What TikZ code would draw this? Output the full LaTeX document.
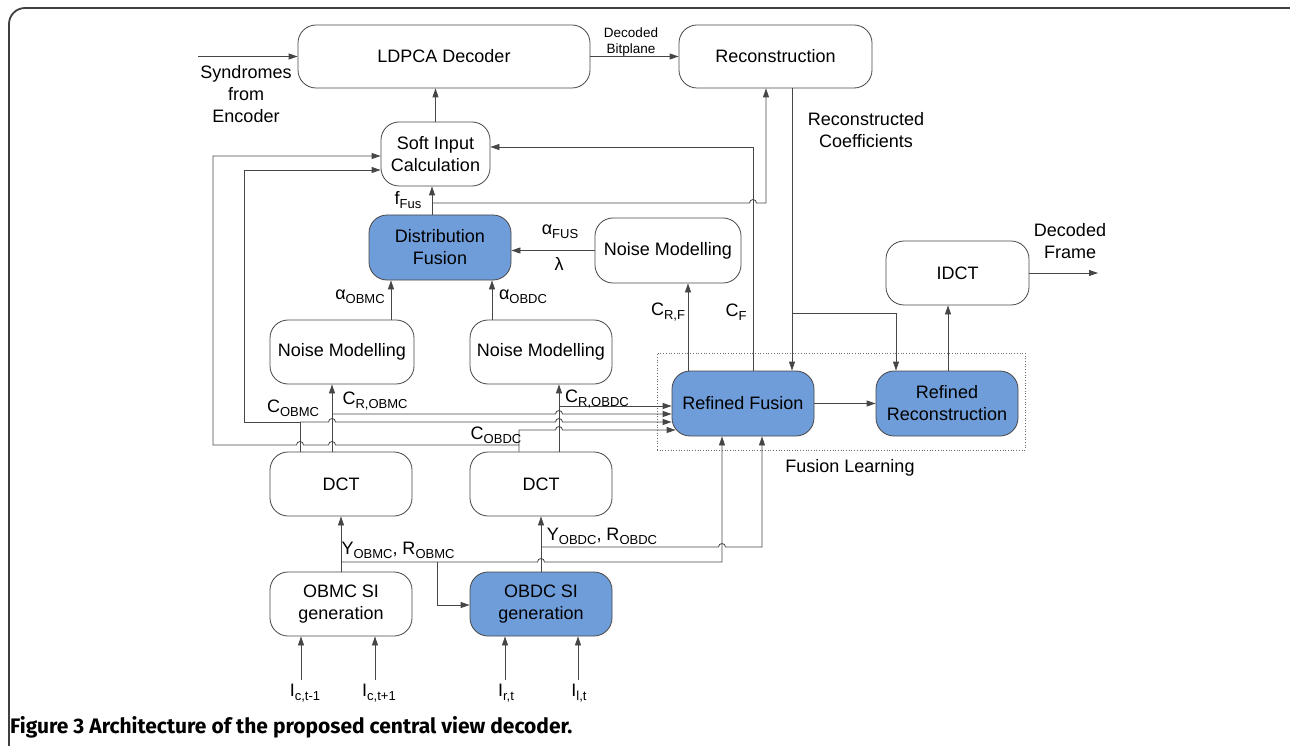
\documentclass[tikz,border=0pt]{standalone}
\usepackage{fontspec}
\setmainfont{Liberation Sans}
\newfontfamily\capfont{Fira Sans}
\usetikzlibrary{arrows.meta,calc}
\definecolor{boxblue}{RGB}{111,157,217}
\definecolor{ln}{RGB}{70,70,70}
\newcommand\sbs[1]{\raisebox{-4pt}{\fontsize{13}{13}\selectfont #1}}
\begin{document}
\begin{tikzpicture}[x=1pt,y=-1pt,font=\fontsize{18}{22}\selectfont,
  box/.style={draw=ln, line width=0.8pt, rounded corners=18pt, align=center, inner sep=0pt, minimum width=142pt, minimum height=64pt},
  bluebox/.style={box, fill=boxblue},
  arr/.style={draw=ln, line width=0.8pt, -{Triangle[length=9pt,width=6pt]}},
  con/.style={draw=ln, line width=0.8pt},
  lbl/.style={inner sep=0pt, align=center},
  small/.style={lbl, font=\fontsize{13.5}{16}\selectfont}]
\useasboundingbox (0,0) rectangle (1290,746);
% outer frame
\draw[line width=1.8pt, draw=black!75, rounded corners=16pt] (1290,8) -- (9,8) -- (9,746);
% fusion learning region
\node[draw=ln!80, dotted, line width=0.7pt, minimum width=368pt, minimum height=97pt, inner sep=0pt] (fl) at (841,401.5) {};
\node[lbl] (fltxt) at (850,468) {Fusion Learning};
% boxes
\node[box, minimum width=292pt, minimum height=63pt] (ldpc) at (444,56.5) {LDPCA Decoder};
\node[box, minimum width=193pt, minimum height=63pt] (recon) at (775.5,56.5) {Reconstruction};
\node[box, minimum width=109pt] (soft) at (435.5,154) {Soft Input\\Calculation};
\node[bluebox, minimum height=65pt] (distf) at (440,247.5) {Distribution\\Fusion};
\node[box, minimum width=146pt, minimum height=65pt] (nmR) at (668,250.5) {Noise Modelling};
\node[box, minimum width=144pt] (nmL) at (342,352) {Noise Modelling};
\node[box] (nmM) at (541,352) {Noise Modelling};
\node[bluebox, minimum height=65pt] (rf) at (743,403.5) {Refined Fusion};
\node[bluebox, minimum height=65pt] (rr) at (947,403.5) {Refined\\Reconstruction};
\node[box, minimum width=143pt] (idct) at (957.5,273) {IDCT};
\node[box] (dctL) at (341,484) {DCT};
\node[box] (dctM) at (541,484) {DCT};
\node[box] (obmc) at (341,604) {OBMC SI\\generation};
\node[bluebox] (obdc) at (541,604) {OBDC SI\\generation};
% top
\coordinate (syn) at (198,56.5);
\draw[arr] (syn) -- (ldpc.west);
\node[lbl] (syntxt) at (246,94) {Syndromes\\from\\Encoder};
\draw[arr] (ldpc.east) -- (recon.west);
\node[small] (dbp) at (631,42) {Decoded\\Bitplane};
\draw[arr] (soft.north) -- (soft.north |- ldpc.south);
\draw[arr] (distf.north -| 432,0) -- (soft.south -| 432,0);
\node[lbl] (ffus) at (408,200) {f\sbs{Fus}};
\draw[arr] (432,203) -- (749.5,203) arc[start angle=180,end angle=360,radius=3.5] -- (766,203) -- (recon.south -| 766,0);
\draw[arr] (rf.north -| 753,0) -- (753,147) -- (soft.east |- 0,147);
\node[lbl] (cf) at (736,312) {C\sbs{F}};
\draw[arr] (recon.south -| 792,0) -- (rf.north -| 792,0);
\draw[arr] (792,313) -- (896,313) -- (rr.north -| 896,0);
\node[lbl] (rc) at (866,130) {Reconstructed\\Coefficients};
\draw[arr] (rf.north -| 688,0) -- (nmR.south -| 688,0);
\node[lbl] (crf) at (668,312) {C\sbs{R,F}};
\draw[arr] (rr.north -| 948,0) -- (idct.south -| 948,0);
\draw[arr] (rf.east) -- (rr.west);
\coordinate (out) at (1098,273);
\draw[arr] (idct.east) -- (out);
\node[lbl] (df) at (1070,241) {Decoded\\Frame};
% noise modelling to distribution fusion
\draw[arr] (nmR.west) -- (distf.east |- nmR.west);
\node[lbl] (afus) at (560,232) {α\sbs{FUS}};
\node[lbl] (lam) at (559,264) {λ};
\draw[arr] (nmL.north -| 391,0) -- (distf.south -| 391,0);
\node[lbl] (aobmc) at (360,297) {α\sbs{OBMC}};
\draw[arr] (nmM.north -| 492,0) -- (distf.south -| 492,0);
\node[lbl] (aobdc) at (523,297) {α\sbs{OBDC}};
% DCT outputs
\draw[arr] (dctL.north -| 332,0) -- (nmL.south -| 332,0);
\node[lbl] (crobmc) at (375,401) {C\sbs{R,OBMC}};
\draw[arr] (332,414) -- (555.5,414) arc[start angle=180,end angle=360,radius=3.5] -- (rf.west |- 0,414);
\draw[con] (dctL.north -| 300,0) -- (300,422);
\node[lbl] (cobmc) at (293,408) {C\sbs{OBMC}};
\draw[arr] (300,422) -- (244,422) -- (244,170) -- (soft.west |- 0,170);
\draw[arr] (300,422) -- (328.5,422) arc[start angle=180,end angle=360,radius=3.5] -- (555.5,422) arc[start angle=180,end angle=360,radius=3.5] -- (rf.west |- 0,422);
\draw[arr] (dctM.north -| 519,0) -- (519,430) -- (555.5,430) arc[start angle=180,end angle=360,radius=3.5] -- ($(rf.west |- 0,430)+(4,0)$);
\node[lbl] (cobdc) at (496,435) {C\sbs{OBDC}};
\draw[arr] (519,445) -- (335.5,445) arc[start angle=0,end angle=-180,radius=3.5] -- (303.5,445) arc[start angle=0,end angle=-180,radius=3.5] -- (213,445) -- (213,156) -- (soft.west |- 0,156);
\draw[arr] (dctM.north -| 559,0) -- (nmM.south -| 559,0);
\draw[arr] (559,406) -- (rf.west |- 0,406);
\node[lbl] (crobdc) at (597,399) {C\sbs{R,OBDC}};
% bottom
\draw[arr] (obmc.north) -- (dctL.south);
\draw[arr] (341,562) -- (537.5,562) arc[start angle=180,end angle=360,radius=3.5] -- (722,562) -- (rf.south -| 722,0);
\node[lbl] (yobmc) at (398,550) {Y\sbs{OBMC}, R\sbs{OBMC}};
\draw[arr] (437,562) -- (437,605) -- (obdc.west |- 0,605);
\draw[arr] (obdc.north) -- (dctM.south);
\draw[arr] (541,547) -- (718.5,547) arc[start angle=180,end angle=360,radius=3.5] -- (762,547) -- (rf.south -| 762,0);
\node[lbl] (yobdc) at (602,536) {Y\sbs{OBDC}, R\sbs{OBDC}};
% inputs
\coordinate (i1) at (301,680);
\coordinate (i2) at (375,680);
\coordinate (i3) at (505,680);
\coordinate (i4) at (578,680);
\draw[arr] (i1) -- (obmc.south -| i1);
\draw[arr] (i2) -- (obmc.south -| i2);
\draw[arr] (i3) -- (obdc.south -| i3);
\draw[arr] (i4) -- (obdc.south -| i4);
\node[lbl] (l1) at (305,693) {I\sbs{c,t-1}};
\node[lbl] (l2) at (379,693) {I\sbs{c,t+1}};
\node[lbl] (l3) at (506,693) {I\sbs{r,t}};
\node[lbl] (l4) at (579,693) {I\sbs{l,t}};
% caption
\node[anchor=west, inner sep=0pt, font=\capfont\bfseries\fontsize{21}{23}\selectfont] (cap) at (10,727) {Figure 3 Architecture of the proposed central view decoder.};
\end{tikzpicture}
\end{document}
